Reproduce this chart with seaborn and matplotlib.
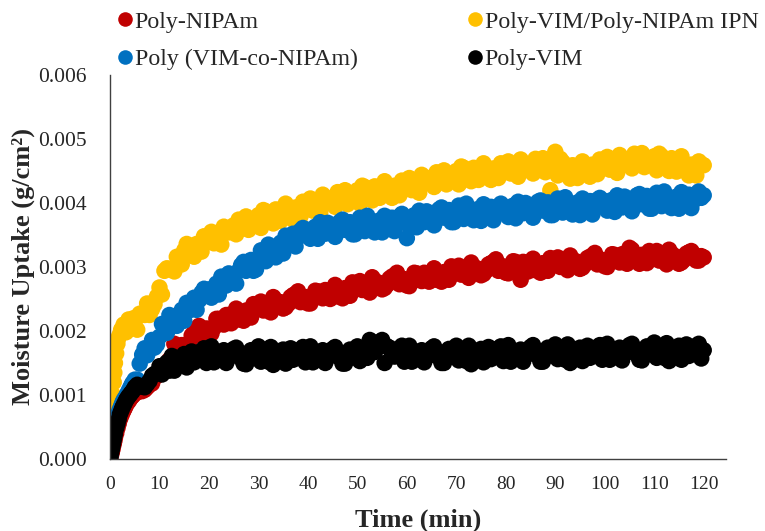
import numpy as np
import pandas as pd
import matplotlib
matplotlib.use("Agg")
import matplotlib.pyplot as plt
from matplotlib.ticker import MultipleLocator, FormatStrFormatter
import seaborn as sns

# ---------------- data (uptake values in 1e-3 g/cm^2) ----------------
time_early = [0, 0.25, 0.5, 0.75, 1, 1.5, 2, 2.5, 3, 3.5, 4, 4.5]
time_early_half = [0.125, 0.375, 0.625, 0.875, 1.25, 1.75, 2.25, 2.75, 3.25, 3.75, 4.25, 4.75]
time_late = list(range(5, 121))
time_min = time_early + time_late
time_half = time_early_half + [t + 0.5 for t in range(5, 120)]   # readings between the above

poly_nipam = [0.0, 0.07, 0.15, 0.24, 0.33, 0.48, 0.62, 0.72, 0.8, 0.88, 0.93, 0.98,
    1.05, 1.08, 1.08, 1.16, 1.27, 1.35, 1.42, 1.55, 1.8, 1.72, 1.7, 1.81, 1.98, 2.08, 2.01, 1.95, 2.05, 2.19, 2.1, 2.25,
    2.26, 2.18, 2.16, 2.3, 2.42, 2.41, 2.32, 2.43, 2.53, 2.41, 2.35, 2.42, 2.56, 2.62, 2.52, 2.43, 2.51, 2.62, 2.51, 2.63,
    2.63, 2.54, 2.51, 2.65, 2.76, 2.74, 2.64, 2.75, 2.84, 2.72, 2.65, 2.72, 2.85, 2.91, 2.8, 2.71, 2.78, 2.9, 2.78, 2.9,
    2.9, 2.8, 2.77, 2.9, 3.01, 2.98, 2.88, 2.98, 3.07, 2.94, 2.87, 2.94, 3.06, 3.12, 3.0, 2.91, 2.97, 3.08, 2.8, 3.07,
    3.05, 2.95, 2.91, 3.04, 3.14, 3.11, 3.0, 3.1, 3.18, 3.05, 2.97, 3.04, 3.16, 3.22, 3.1, 3.01, 3.08, 3.19, 3.07, 3.19,
    3.3, 3.2, 3.05, 3.15, 3.25, 3.21, 3.1, 3.19, 3.27, 3.13, 3.05, 3.11, 3.23, 3.2, 3.1, 3.15]
poly_nipam_half = [0.03, 0.11, 0.2, 0.28, 0.4, 0.55, 0.67, 0.76, 0.84, 0.9, 0.96, 1.0,
    1.04, 1.06, 1.12, 1.18, 1.3, 1.42, 1.48, 1.55, 1.77, 1.78, 1.74, 1.93, 2.02, 1.92, 2.04, 1.96, 2.19, 2.12, 2.25, 2.12,
    2.35, 2.21, 2.32, 2.21, 2.38, 2.46, 2.34, 2.29, 2.48, 2.45, 2.37, 2.53, 2.58, 2.45, 2.53, 2.43, 2.63, 2.54, 2.64, 2.5,
    2.72, 2.56, 2.67, 2.55, 2.72, 2.78, 2.66, 2.6, 2.79, 2.75, 2.67, 2.82, 2.87, 2.73, 2.81, 2.7, 2.91, 2.81, 2.91, 2.77,
    2.98, 2.82, 2.92, 2.8, 2.96, 3.02, 2.89, 2.83, 3.01, 2.97, 2.89, 3.04, 3.08, 2.94, 3.01, 2.9, 3.09, 2.99, 3.08, 2.93,
    3.13, 2.97, 3.06, 2.94, 3.09, 3.15, 3.01, 2.95, 3.12, 3.08, 2.99, 3.14, 3.18, 3.04, 3.11, 3.0, 3.2, 3.1, 3.2, 3.05,
    3.27, 3.1, 3.19, 3.06, 3.21, 3.25, 3.11, 3.04, 3.21, 3.16, 3.07, 3.21, 3.25, 3.1, 3.17]

poly_co = [0.0, 0.15, 0.3, 0.42, 0.52, 0.65, 0.78, 0.88, 0.95, 1.02, 1.1, 1.18,
    1.24, 1.49, 1.73, 1.71, 1.74, 1.91, 2.09, 2.25, 2.18, 2.16, 2.16, 2.32, 2.52, 2.48, 2.66, 2.65, 2.58, 2.57, 2.75, 2.9,
    2.79, 2.94, 3.08, 3.01, 2.94, 3.06, 3.24, 3.35, 3.28, 3.21, 3.21, 3.37, 3.52, 3.46, 3.61, 3.58, 3.48, 3.44, 3.58, 3.69,
    3.54, 3.64, 3.74, 3.62, 3.51, 3.59, 3.73, 3.8, 3.69, 3.58, 3.54, 3.66, 3.77, 3.69, 3.83, 3.45, 3.67, 3.62, 3.76, 3.87,
    3.72, 3.83, 3.93, 3.81, 3.7, 3.78, 3.92, 3.99, 3.88, 3.76, 3.72, 3.83, 3.94, 3.85, 3.99, 3.93, 3.82, 3.76, 3.9, 4.0,
    3.84, 3.95, 4.04, 3.93, 3.81, 3.89, 4.02, 4.09, 3.97, 3.86, 3.81, 3.93, 4.03, 3.95, 4.08, 4.03, 3.91, 3.86, 3.99, 4.1,
    3.94, 4.05, 4.14, 4.03, 3.91, 3.98, 4.12, 4.18, 4.07, 3.95, 3.91, 4.02, 4.13, 4.04, 4.18, 4.12]
poly_co_half = [0.07, 0.22, 0.36, 0.47, 0.58, 0.72, 0.83, 0.92, 0.98, 1.06, 1.14, 1.2,
    1.24, 1.63, 1.62, 1.86, 1.79, 2.11, 1.97, 2.16, 2.08, 2.33, 2.44, 2.35, 2.33, 2.6, 2.58, 2.52, 2.74, 2.85, 2.71, 2.84,
    2.74, 3.03, 2.94, 3.11, 2.96, 3.26, 3.09, 3.26, 3.15, 3.38, 3.49, 3.37, 3.32, 3.57, 3.52, 3.44, 3.63, 3.7, 3.52, 3.61,
    3.47, 3.71, 3.58, 3.7, 3.51, 3.77, 3.56, 3.69, 3.54, 3.73, 3.8, 3.64, 3.56, 3.79, 3.73, 3.63, 3.81, 3.88, 3.7, 3.79,
    3.65, 3.9, 3.77, 3.89, 3.7, 3.96, 3.75, 3.88, 3.73, 3.91, 3.98, 3.81, 3.73, 3.95, 3.89, 3.78, 3.96, 4.02, 3.84, 3.92,
    3.77, 4.02, 3.88, 4.01, 3.81, 4.07, 3.85, 3.98, 3.82, 4.01, 4.07, 3.91, 3.82, 4.05, 3.98, 3.88, 4.05, 4.12, 3.93, 4.02,
    3.87, 4.12, 3.98, 4.11, 3.91, 4.16, 3.95, 4.07, 3.92, 4.1, 4.17, 4.0, 3.92, 4.14, 4.08]

poly_ipn = [0.05, 0.4, 0.8, 1.2, 1.5, 1.8, 1.95, 2.0, 2.05, 2.05, 2.1, 2.1,
    2.15, 2.27, 2.25, 2.25, 2.42, 2.68, 2.94, 2.97, 2.93, 3.05, 3.26, 3.21, 3.16, 3.33, 3.48, 3.46, 3.37, 3.51, 3.63, 3.54,
    3.65, 3.74, 3.65, 3.58, 3.67, 3.81, 3.89, 3.79, 3.68, 3.77, 3.9, 3.82, 3.74, 3.88, 4.02, 3.98, 3.88, 4.01, 4.13, 4.0,
    4.08, 4.17, 4.06, 3.98, 4.07, 4.2, 4.27, 4.17, 4.04, 4.13, 4.26, 4.17, 4.08, 4.22, 4.35, 4.31, 4.2, 4.33, 4.44, 4.32,
    4.4, 4.48, 4.38, 4.29, 4.38, 4.5, 4.57, 4.47, 4.34, 4.42, 4.54, 4.45, 4.36, 4.49, 4.62, 4.57, 4.46, 4.58, 4.68, 4.55,
    4.61, 4.69, 4.57, 4.48, 4.2, 4.8, 4.69, 4.54, 4.38, 4.45, 4.56, 4.48, 4.41, 4.55, 4.68, 4.64, 4.52, 4.64, 4.75, 4.62,
    4.69, 4.77, 4.65, 4.56, 4.63, 4.73, 4.77, 4.64, 4.5, 4.56, 4.66, 4.54, 4.43, 4.54, 4.65, 4.59]
poly_ipn_half = [0.22, 0.6, 1.0, 1.35, 1.65, 1.9, 2.02, 2.1, 1.98, 2.18, 2.05, 2.2,
    2.02, 2.27, 2.43, 2.34, 2.54, 2.57, 2.98, 2.97, 3.16, 3.04, 3.36, 3.19, 3.36, 3.24, 3.46, 3.55, 3.41, 3.35, 3.6, 3.58,
    3.51, 3.7, 3.79, 3.63, 3.74, 3.61, 3.87, 3.76, 3.9, 3.72, 3.99, 3.79, 3.93, 3.79, 3.99, 4.07, 3.92, 3.85, 4.08, 4.03,
    3.94, 4.12, 4.2, 4.03, 4.13, 3.99, 4.25, 4.12, 4.26, 4.08, 4.34, 4.13, 4.27, 4.12, 4.32, 4.39, 4.24, 4.16, 4.4, 4.35,
    4.25, 4.44, 4.51, 4.34, 4.43, 4.29, 4.55, 4.42, 4.55, 4.36, 4.62, 4.41, 4.54, 4.39, 4.58, 4.65, 4.49, 4.41, 4.63, 4.57,
    4.46, 4.64, 4.7, 4.52, 4.6, 4.43, 4.64, 4.48, 4.59, 4.39, 4.65, 4.45, 4.6, 4.45, 4.65, 4.72, 4.55, 4.47, 4.7, 4.64,
    4.54, 4.72, 4.78, 4.6, 4.68, 4.51, 4.73, 4.59, 4.7, 4.49, 4.73, 4.49, 4.6, 4.43, 4.61]

poly_vim = [0.0, 0.1, 0.2, 0.3, 0.4, 0.55, 0.7, 0.8, 0.88, 0.95, 1.0, 1.05,
    1.12, 1.14, 1.12, 1.22, 1.33, 1.45, 1.44, 1.38, 1.38, 1.5, 1.64, 1.6, 1.51, 1.64, 1.73, 1.62, 1.51, 1.56, 1.7, 1.61,
    1.72, 1.6, 1.49, 1.57, 1.69, 1.76, 1.64, 1.52, 1.47, 1.58, 1.71, 1.65, 1.55, 1.67, 1.75, 1.62, 1.51, 1.56, 1.7, 1.61,
    1.72, 1.6, 1.49, 1.57, 1.69, 1.76, 1.64, 1.58, 1.7, 1.82, 1.86, 1.76, 1.62, 1.68, 1.77, 1.63, 1.52, 1.57, 1.7, 1.62,
    1.73, 1.61, 1.5, 1.58, 1.7, 1.77, 1.65, 1.53, 1.48, 1.59, 1.72, 1.66, 1.56, 1.68, 1.76, 1.63, 1.52, 1.57, 1.71, 1.63,
    1.75, 1.63, 1.52, 1.6, 1.72, 1.79, 1.67, 1.55, 1.5, 1.61, 1.74, 1.68, 1.58, 1.7, 1.78, 1.66, 1.55, 1.6, 1.74, 1.66,
    1.78, 1.66, 1.55, 1.63, 1.75, 1.82, 1.7, 1.58, 1.53, 1.64, 1.77, 1.71, 1.61, 1.73, 1.8, 1.7]
poly_vim_half = [0.05, 0.15, 0.25, 0.35, 0.48, 0.62, 0.75, 0.84, 0.92, 0.98, 1.03, 1.08,
    1.16, 1.13, 1.17, 1.3, 1.34, 1.32, 1.51, 1.61, 1.46, 1.56, 1.43, 1.68, 1.56, 1.69, 1.5, 1.76, 1.54, 1.66, 1.5, 1.68,
    1.74, 1.57, 1.48, 1.7, 1.63, 1.52, 1.69, 1.75, 1.56, 1.64, 1.49, 1.73, 1.59, 1.71, 1.51, 1.76, 1.54, 1.66, 1.5, 1.68,
    1.75, 1.58, 1.49, 1.71, 1.64, 1.53, 1.7, 1.86, 1.67, 1.75, 1.5, 1.74, 1.6, 1.72, 1.52, 1.77, 1.55, 1.67, 1.51, 1.69,
    1.76, 1.59, 1.5, 1.72, 1.65, 1.54, 1.71, 1.77, 1.58, 1.66, 1.51, 1.75, 1.61, 1.73, 1.53, 1.78, 1.56, 1.68, 1.52, 1.7,
    1.78, 1.61, 1.52, 1.74, 1.67, 1.56, 1.73, 1.79, 1.6, 1.68, 1.53, 1.77, 1.63, 1.75, 1.55, 1.8, 1.58, 1.7, 1.54, 1.72,
    1.8, 1.63, 1.54, 1.76, 1.69, 1.58, 1.75, 1.81, 1.62, 1.7, 1.55, 1.79, 1.65, 1.77, 1.57]

labels = ["Poly-NIPAm", "Poly (VIM-co-NIPAm)", "Poly-VIM/Poly-NIPAm IPN", "Poly-VIM"]
colors = ["#C00000", "#0070C0", "#FFC000", "#000000"]
x_ticks = [0, 10, 20, 30, 40, 50, 60, 70, 80, 90, 100, 110, 120]

# drawing order: red, yellow, blue, black
series = [(labels[0], poly_nipam, poly_nipam_half),
          (labels[2], poly_ipn, poly_ipn_half),
          (labels[1], poly_co, poly_co_half),
          (labels[3], poly_vim, poly_vim_half)]
frames = []
for name, vals, half in series:
    frames.append(pd.DataFrame({"time": time_min + time_half,
                                "uptake": np.array(vals + half) * 1e-3,
                                "series": name}))
df = pd.concat(frames, ignore_index=True)

# ---------------- figure ----------------
sns.set_style("white")
plt.rcParams["font.family"] = ["Liberation Serif", "DejaVu Serif"]

fig = plt.figure(figsize=(7.65, 5.31), dpi=100)
ax = fig.add_axes([0.1438, 0.1356, 0.8052, 0.7232])

sns.scatterplot(data=df, x="time", y="uptake", hue="series", hue_order=labels,
                palette=dict(zip(labels, colors)), s=140, linewidth=0,
                alpha=1, ax=ax, legend=True)

ax.set_xlim(0, 124.5)
ax.set_ylim(0, 0.006)
ax.set_xticks(x_ticks)
ax.xaxis.set_minor_locator(MultipleLocator(5))
ax.yaxis.set_major_locator(MultipleLocator(0.001))
ax.yaxis.set_minor_locator(MultipleLocator(0.0005))
ax.yaxis.set_major_formatter(FormatStrFormatter("%.3f"))
ax.tick_params(axis="both", which="both", direction="in", length=5, width=1,
               color="#404040")
ax.tick_params(axis="x", which="major", labelsize=14, pad=12)
ax.tick_params(axis="y", which="major", labelsize=15.5, pad=17)

for side in ["top", "right"]:
    ax.spines[side].set_visible(False)
for side in ["left", "bottom"]:
    ax.spines[side].set_color("#404040")
    ax.spines[side].set_linewidth(1)

ax.set_xlabel("Time (min)", fontsize=19, fontweight="bold")
ax.set_ylabel("Moisture Uptake (g/cm²)", fontsize=19, fontweight="bold")
ax.xaxis.set_label_coords(0.5, -0.128)
ax.yaxis.set_label_coords(-0.14, 0.5)
ax.yaxis.label.set_va("center")

handles, labs = ax.get_legend_handles_labels()
ax.get_legend().remove()
for h in handles:
    h.set_markersize(np.sqrt(110))
fig.legend(handles, labs, loc="center left", bbox_to_anchor=(0.138, 0.9237),
           ncol=2, frameon=False, fontsize=17.2, handlelength=0.6,
           handletextpad=0.12, columnspacing=4.6, labelspacing=0.66,
           markerscale=1.0, borderpad=0)

fig.savefig("out.png", dpi=100)
